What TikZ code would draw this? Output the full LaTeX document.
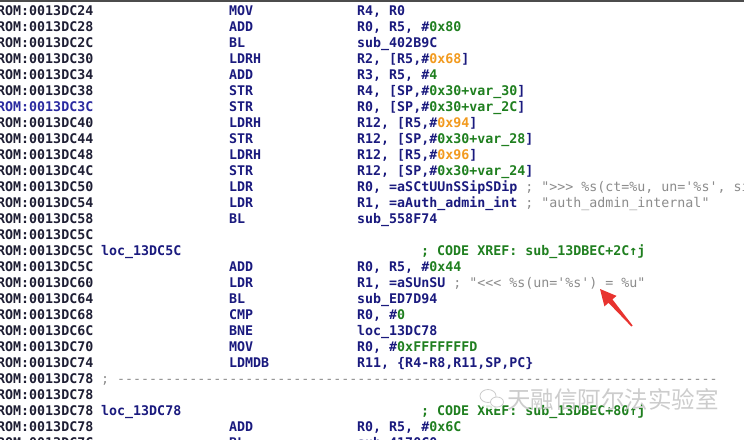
\documentclass[tikz,border=0pt]{standalone}
\usepackage{fontspec}
\setmonofont{DejaVu Sans Mono}
\newfontfamily\cjk{Noto Sans CJK SC}
\usetikzlibrary{calc}
\definecolor{addrcol}{HTML}{1E1E34}
\definecolor{addrhl}{HTML}{2A2AA0}
\definecolor{asmnavy}{HTML}{1A1A7E}
\definecolor{asmgreen}{HTML}{1F7F1F}
\definecolor{asmorange}{HTML}{F29A1E}
\definecolor{cmtgray}{HTML}{8C8C8C}
\definecolor{arrowred}{HTML}{E8332F}
\newcommand\asmfont{\fontsize{13.3}{16}\selectfont\ttfamily\bfseries}
\newcommand\gnum[1]{\textcolor{asmgreen}{#1}}
\newcommand\onum[1]{\textcolor{asmorange}{#1}}
\newcommand\cmt[1]{{\mdseries\color{cmtgray}#1}}
\tikzset{
  >=latex,
}
\tikzstyle{addr}=[anchor=base west,inner sep=0,font=\asmfont,text=addrcol]
\tikzstyle{mnem}=[addr,text=asmnavy]
\tikzstyle{xref}=[addr,text=asmgreen]
\tikzstyle{sepline}=[addr,font=\asmfont\mdseries,text=cmtgray]
\tikzstyle{watermark}=[anchor=west,inner sep=0,font=\cjk\fontsize{23.5}{24}\selectfont,text=gray!40]

\begin{document}
\begin{tikzpicture}[x=1pt,y=-1pt]
    \useasboundingbox (0,0) rectangle (744,439);
    \fill[white] (0,0) rectangle (744,439);
    \fill[black!70] (0,0) rectangle (744,2);
    % addresses
    \foreach \a/\c [count=\i from 0] in {24/addrcol,28/addrcol,2C/addrcol,
      30/addrcol,34/addrcol,38/addrcol,3C/addrhl,40/addrcol,44/addrcol,
      48/addrcol,4C/addrcol,50/addrcol,54/addrcol,58/addrcol,5C/addrcol,
      5C/addrcol,5C/addrcol,60/addrcol,64/addrcol,68/addrcol,6C/addrcol,
      70/addrcol,74/addrcol,78/addrcol,78/addrcol,78/addrcol,78/addrcol,
      7C/addrcol}
      \node[addr,text=\c] (addr\i) at (-3,15+16*\i) {ROM:0013DC\a};
    % instructions
    \foreach \i/\mn/\ops in {0/MOV/{R4, R0},
      1/ADD/{R0, R5, \#\gnum{0x80}},
      2/BL/sub\_402B9C,
      3/LDRH/{R2, [R5,\#\onum{0x68}]},
      4/ADD/{R3, R5, \#\gnum{4}},
      5/STR/{R4, [SP,\#\gnum{0x30+var\_30}]},
      6/STR/{R0, [SP,\#\gnum{0x30+var\_2C}]},
      7/LDRH/{R12, [R5,\#\onum{0x94}]},
      8/STR/{R12, [SP,\#\gnum{0x30+var\_28}]},
      9/LDRH/{R12, [R5,\#\onum{0x96}]},
      10/STR/{R12, [SP,\#\gnum{0x30+var\_24}]},
      11/LDR/{R0, =aSCtUUnSSipSDip \cmt{; ">>> \%s(ct=\%u, un='\%s', si}},
      12/LDR/{R1, =aAuth\_admin\_int \cmt{; "auth\_admin\_internal"}},
      13/BL/sub\_558F74,
      16/ADD/{R0, R5, \#\gnum{0x44}},
      17/LDR/{R1, =aSUnSU \cmt{; "<<< \%s(un='\%s') = \%u"}},
      18/BL/sub\_ED7D94,
      19/CMP/{R0, \#\gnum{0}},
      20/BNE/loc\_13DC78,
      21/MOV/{R0, \#\gnum{0xFFFFFFFD}},
      22/LDMDB/{R11, \{R4-R8,R11,SP,PC\}},
      26/ADD/{R0, R5, \#\gnum{0x6C}},
      27/BL/sub\_4170C0}
      {
      \node[mnem] (mn\i) at (229,15+16*\i) {\mn};
      \node[mnem] (op\i) at (357,15+16*\i) {\ops};
      }
    % labels and xrefs
    \node[mnem] (loc5c) at (101,255) {loc\_13DC5C};
    \node[xref] (xref5c) at (421,255) {; CODE XREF: sub\_13DBEC+2C↑j};
    \node[sepline] (sep) at (101,383)
      {; ---------------------------------------------------------------------------};
    \node[mnem] (loc78) at (101,415) {loc\_13DC78};
    \node[xref] (xref78) at (421,415) {; CODE XREF: sub\_13DBEC+80↑j};
    % watermark
    \fill[white,opacity=.85] (492,399) ellipse (14 and 10);
    \draw[gray!40,thick] (488,396) ellipse (8 and 6.5);
    \draw[gray!40,thick,fill=white] (497,402) ellipse (6.5 and 5);
    \node[watermark] (wm) at (507,399) {天融信阿尔法实验室};
    % red arrow
    \coordinate (tip) at (600,289);
    \coordinate (tail) at (632,326);
    \coordinate (hb) at ($(tip)!16pt!(tail)$);
    \fill[arrowred] (tip) -- ($(hb)!8pt!90:(tail)$) -- ($(hb)!2.6pt!90:(tail)$)
      -- ($(tail)!.8pt!-90:(hb)$) -- ($(tail)!.8pt!90:(hb)$)
      -- ($(hb)!2.6pt!-90:(tail)$) -- ($(hb)!8pt!-90:(tail)$) -- cycle;
\end{tikzpicture}
\end{document}
